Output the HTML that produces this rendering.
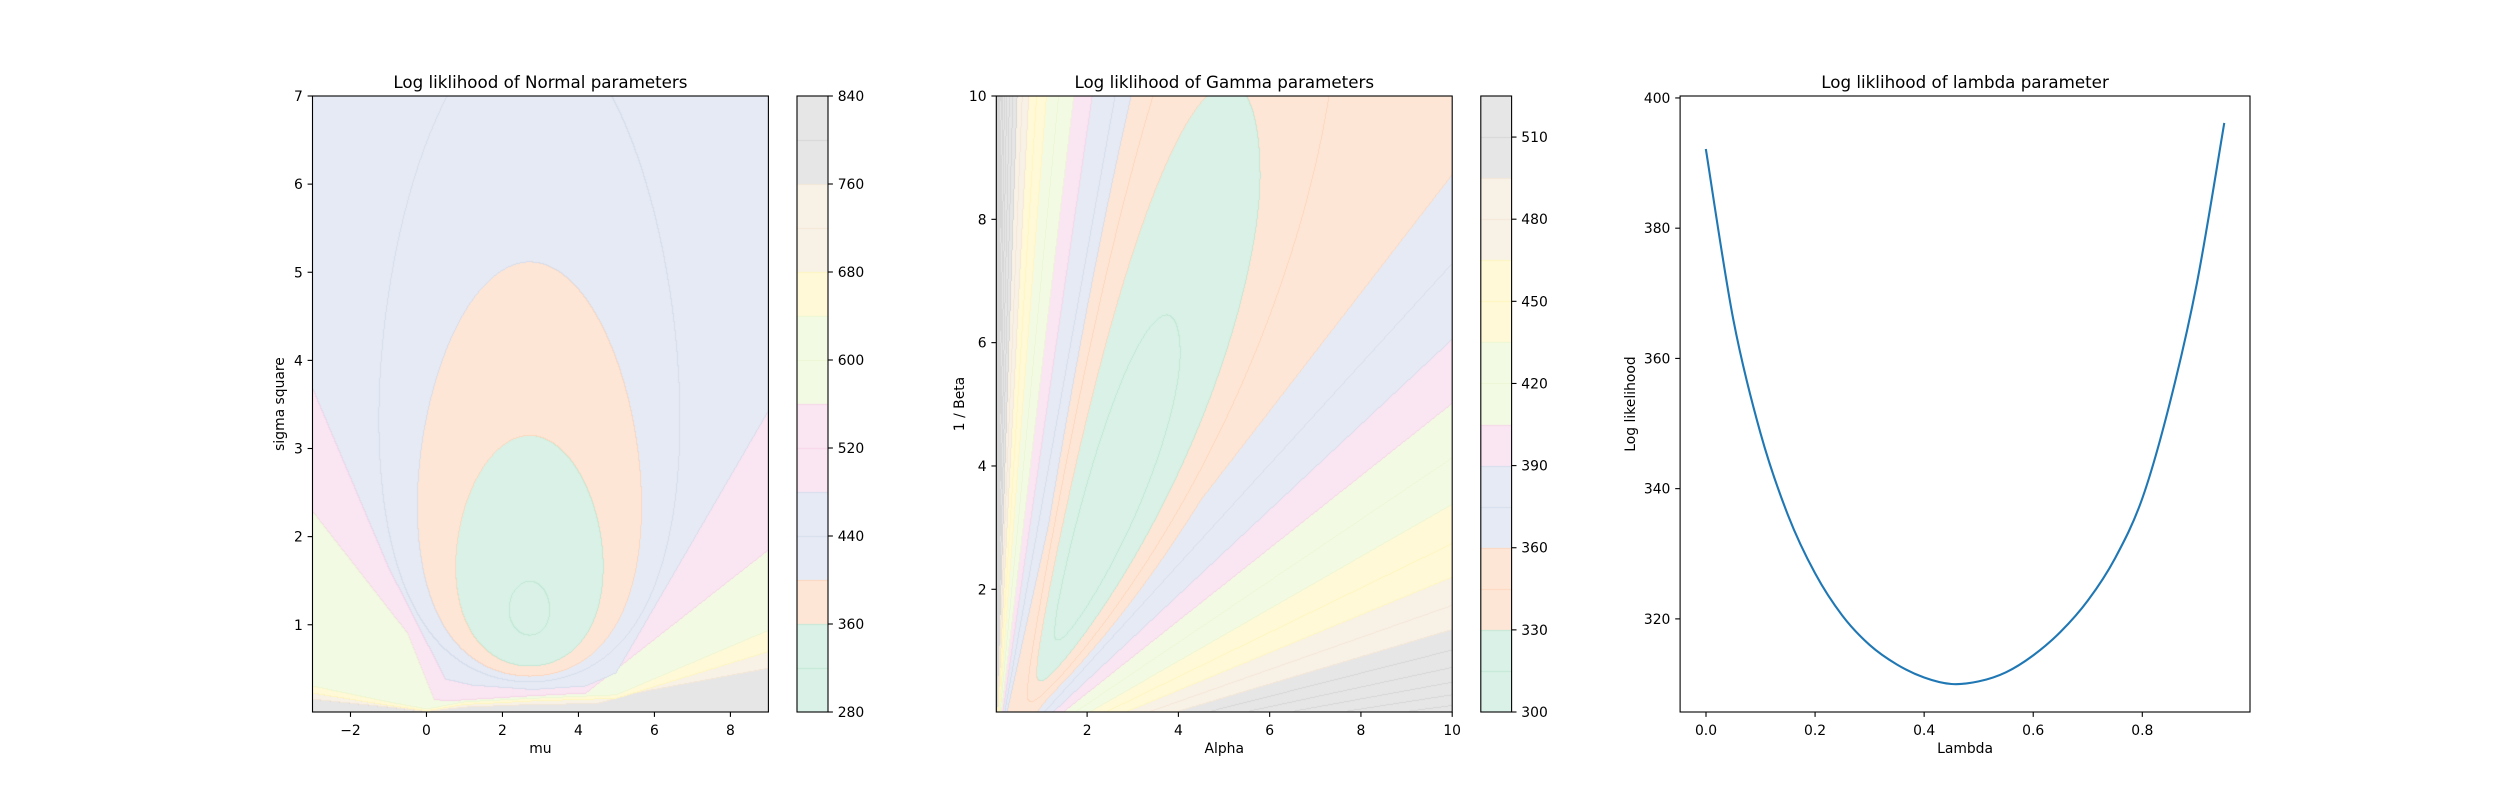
<!DOCTYPE html>
<html><head><meta charset="utf-8"><style>
html,body{margin:0;padding:0;background:#fff;}
#root{position:relative;width:2500px;height:800px;overflow:hidden;font-family:"DejaVu Sans","Liberation Sans",sans-serif;}
canvas{position:absolute;}
svg{position:absolute;left:0;top:0;}
</style></head><body>
<div id="root">
<canvas id="c1"></canvas>
<canvas id="cb1"></canvas>
<canvas id="c2"></canvas>
<canvas id="cb2"></canvas>
<svg id="s" width="2500" height="800"></svg>
</div>
<script>
// ---------------- data ----------------
const normLevels = [280, 360, 400, 480, 560, 640, 680, 760, 840];
const normTicks = [280, 360, 440, 520, 600, 680, 760, 840];
const normParams = [316, 115, 16]; // min value, sigma coefficient, mu coefficient
const normCenter = [2.72, 1.13];   // mu, sigma^2 at optimum
const normEdge480 = [[-3,3.68],[-1,1.65],[0.5,0.38],[1.2,0.31],[2.8,0.26],[4.2,0.30],[5,0.45],[9,3.41]];
const normEdge560 = [[-3,2.28],[-0.5,0.9],[0.2,0.15],[0.5,0.13],[2.8,0.19],[4.2,0.22],[9,1.84]];
const normEdge640 = [[-3,0.30],[-1,0.12],[0,0.04],[1,0.12],[2.8,0.16],[5,0.2],[9,0.93]];
const normEdge680 = [[-3,0.22],[-1,0.08],[0,0.02],[1,0.09],[2.8,0.13],[5,0.16],[9,0.69]];
const normEdge760 = [[-3,0.15],[-1,0.06],[0,0.01],[1,0.06],[2.8,0.09],[4.5,0.1],[5.5,0.22],[9,0.5]];
const normXTicks = [-2, 0, 2, 4, 6, 8];
const normYTicks = [1, 2, 3, 4, 5, 6, 7];

const gamLevels = [300, 330, 360, 390, 405, 435, 465, 495, 525];
const gamTicks = [300, 330, 360, 390, 420, 450, 480, 510];
const gamRidge = [1.65, 0.87, 1.3];
const gamShape = [306, 28, 2.3, 140];
const gamRay = [310, 92, 345];

const gamXTicks = [2, 4, 6, 8, 10];
const gamYTicks = [2, 4, 6, 8, 10];

const lambdaVals = [0,0.05,0.10,0.15,0.20,0.25,0.30,0.35,0.40,0.45,0.50,0.55,0.60,0.65,0.70,0.75,0.80,0.85,0.90,0.95];
const llVals = [392,366,348.5,336,327,320.5,316,313,311,310,310.4,311.8,314.4,318,322.8,329.3,338.5,353,371.5,396];
const lamXTicks = [0.0, 0.2, 0.4, 0.6, 0.8];
const lamYTicks = [320, 340, 360, 380, 400];

// ---------------- layout ----------------
const base = [[179,226,205],[253,205,172],[203,213,232],[244,202,228],[230,245,201],[255,242,174],[241,226,204],[204,204,204]];
const fill = base.map(c => c.map(v => Math.round(v*0.5 + 127.5)));
const line = base.map(c => c.map(v => Math.round(v*0.8 + 255*0.2)));
const P1 = {x0:312.5, x1:768.4, y0:96, y1:712, xd:[-3,9], yd:[0.01,7]};
const CB1 = {x0:797, x1:828, y0:96, y1:712};
const P2 = {x0:996.3, x1:1452.2, y0:96, y1:712, xd:[0.01,10], yd:[0.01,10]};
const CB2 = {x0:1480.8, x1:1511.6, y0:96, y1:712};
const P3 = {x0:1680.1, x1:2250, y0:96, y1:712};

function interp(poly, x){
  if (x <= poly[0][0]) return poly[0][1];
  for (let i=1;i<poly.length;i++){
    if (x <= poly[i][0]){const a=poly[i-1],b=poly[i];return a[1]+(b[1]-a[1])*(x-a[0])/(b[0]-a[0]);}
  }
  return poly[poly.length-1][1];
}
function normField(mu, s2){
  if (s2 < interp(normEdge480, mu)){
    if (s2 < interp(normEdge760, mu)) return 800;
    if (s2 < interp(normEdge680, mu)) return 720;
    if (s2 < interp(normEdge640, mu)) return 660;
    if (s2 < interp(normEdge560, mu)) return 600;
    return 520;
  }
  const r = s2/normCenter[1];
  const d = mu - normCenter[0];
  const E = normParams[0] + normParams[1]*(Math.log(r)+1/r-1) + normParams[2]*d*d/s2;
  return Math.min(E, 470);
}
function gamField(a, y){
  const t = (y + gamRidge[1]) / a;
  let u = Math.log(t / gamRidge[0]);
  u = u > 0 ? u / gamRidge[2] : -u;
  const la = Math.log(a / gamShape[2]);
  const E = gamShape[0] + gamShape[1]*la*la + gamShape[3]*u*u;
  const R = Math.max(gamRay[0] + gamRay[1]*u, gamRay[2]);
  return Math.min(E, R);
}
function bandOf(levels, f){
  for (let k=0;k<levels.length-2;k++) if (f < levels[k+1]) return k;
  return levels.length-2;
}
function renderField(id, P, fn, levels, step){
  const cv = document.getElementById(id);
  const L = Math.round(P.x0), T = Math.round(P.y0);
  const w = Math.round(P.x1) - L, h = Math.round(P.y1) - T;
  cv.width = w; cv.height = h; cv.style.left = L+'px'; cv.style.top = T+'px';
  const ctx = cv.getContext('2d'); const img = ctx.createImageData(w,h);
  const band = new Int16Array(w*h), fine = new Int16Array(w*h);
  for (let j=0;j<h;j++){
    const y = P.yd[1] - (j+0.5)/h*(P.yd[1]-P.yd[0]);
    for (let i=0;i<w;i++){
      const x = P.xd[0] + (i+0.5)/w*(P.xd[1]-P.xd[0]);
      const f = fn(x,y);
      band[j*w+i] = bandOf(levels, f);
      fine[j*w+i] = Math.floor((f - levels[0])/step);
    }
  }
  for (let j=0;j<h;j++) for (let i=0;i<w;i++){
    const k = j*w+i, b = band[k];
    const edge = (i<w-1 && fine[k]!==fine[k+1]) || (j<h-1 && fine[k]!==fine[k+w]);
    const c = edge ? line[b] : fill[b];
    img.data[k*4]=c[0]; img.data[k*4+1]=c[1]; img.data[k*4+2]=c[2]; img.data[k*4+3]=255;
  }
  ctx.putImageData(img,0,0);
}
function renderBar(id, CB, levels, step){
  const cv = document.getElementById(id);
  const L = Math.round(CB.x0), T = Math.round(CB.y0);
  const w = Math.round(CB.x1)-L, h = Math.round(CB.y1)-T;
  cv.width=w; cv.height=h; cv.style.left=L+'px'; cv.style.top=T+'px';
  const ctx = cv.getContext('2d');
  const lo = levels[0], hi = levels[levels.length-1];
  for (let j=0;j<h;j++){
    const v = hi - (j+0.5)/h*(hi-lo);
    const b = bandOf(levels, v);
    const c = fill[b];
    ctx.fillStyle = 'rgb('+c+')'; ctx.fillRect(0,j,w,1);
  }
  for (let v=lo+step; v<hi; v+=step){
    const b = bandOf(levels, v - 0.01);
    const c = line[b];
    ctx.fillStyle='rgb('+c+')';
    ctx.fillRect(0, Math.round((hi-v)/(hi-lo)*h), w, 1);
  }
}
renderField('c1', P1, normField, normLevels, 40);
renderField('c2', P2, gamField, gamLevels, 15);
renderBar('cb1', CB1, normLevels, 40);
renderBar('cb2', CB2, gamLevels, 15);

// ---------------- SVG overlay ----------------
const svg = document.getElementById('s');
const NS = 'http://www.w3.org/2000/svg';
function mk(tag, attrs, parent){
  const e = document.createElementNS(NS, tag);
  for (const k in attrs) e.setAttribute(k, attrs[k]);
  (parent||svg).appendChild(e); return e;
}
function txt(str, x, y, size, anchor, name, extra){
  const t = mk('text', Object.assign({x:x, y:y, 'font-size':size, 'text-anchor':anchor, fill:'#000',
    'font-family':'DejaVu Sans, Liberation Sans, sans-serif'}, extra||{}));
  t.textContent = str;
  
  
  return t;
}
function fmt(v){ return (v<0?'\u2212':'') + Math.abs(v); }
function frame(P, name){
  const r = mk('rect', {x:P.x0, y:P.y0, width:P.x1-P.x0, height:P.y1-P.y0, fill:'none', stroke:'#000', 'stroke-width':1.1});
  
  
}
function xTicks(P, xd, ticks, labels, prefix){
  ticks.forEach((v,i) => {
    const x = P.x0 + (v - xd[0])/(xd[1]-xd[0])*(P.x1-P.x0);
    const l = mk('line', {x1:x, x2:x, y1:P.y1, y2:P.y1+4.9, stroke:'#000', 'stroke-width':1.1});
    
    
    txt(labels[i], x, P.y1+23, 13.9, 'middle', prefix+'-x-tick-label');
  });
}
function yTicks(P, yd, ticks, labels, prefix, right){
  ticks.forEach((v,i) => {
    const y = P.y1 - (v - yd[0])/(yd[1]-yd[0])*(P.y1-P.y0);
    const xa = right ? P.x1 : P.x0;
    const xb = right ? P.x1+4.9 : P.x0-4.9;
    const l = mk('line', {x1:xa, x2:xb, y1:y, y2:y, stroke:'#000', 'stroke-width':1.1});
    
    
    txt(labels[i], right ? P.x1+9.7 : P.x0-9.7, y+5, 13.9, right?'start':'end', prefix+'-y-tick-label');
  });
}

frame(P1, 'normal-axes-frame');
xTicks(P1, P1.xd, normXTicks, normXTicks.map(fmt), 'normal');
yTicks(P1, P1.yd, normYTicks, normYTicks.map(String), 'normal');
txt('Log liklihood of Normal parameters', (P1.x0+P1.x1)/2, 88, 16.7, 'middle', 'normal-title');
txt('mu', (P1.x0+P1.x1)/2, 753, 13.9, 'middle', 'normal-x-axis-title');
txt('sigma square', 0, 0, 13.9, 'middle', 'normal-y-axis-title', {transform:'translate(284,404) rotate(-90)'});
frame(CB1, 'normal-colorbar-frame');
yTicks(CB1, [normLevels[0], normLevels[normLevels.length-1]], normTicks, normTicks.map(String), 'normal-colorbar', true);

frame(P2, 'gamma-axes-frame');
xTicks(P2, P2.xd, gamXTicks, gamXTicks.map(String), 'gamma');
yTicks(P2, P2.yd, gamYTicks, gamYTicks.map(String), 'gamma');
txt('Log liklihood of Gamma parameters', (P2.x0+P2.x1)/2, 88, 16.7, 'middle', 'gamma-title');
txt('Alpha', (P2.x0+P2.x1)/2, 753, 13.9, 'middle', 'gamma-x-axis-title');
txt('1 / Beta', 0, 0, 13.9, 'middle', 'gamma-y-axis-title', {transform:'translate(964,404) rotate(-90)'});
frame(CB2, 'gamma-colorbar-frame');
yTicks(CB2, [gamLevels[0], gamLevels[gamLevels.length-1]], gamTicks, gamTicks.map(String), 'gamma-colorbar', true);

const lxMin = Math.min(...lambdaVals), lxMax = Math.max(...lambdaVals);
const lyMin = Math.min(...llVals), lyMax = Math.max(...llVals);
const lxd = [lxMin - 0.05*(lxMax-lxMin), lxMax + 0.05*(lxMax-lxMin)];
const lyd = [lyMin - 0.05*(lyMax-lyMin), lyMax + 0.05*(lyMax-lyMin)];
const sx = v => P3.x0 + (v-lxd[0])/(lxd[1]-lxd[0])*(P3.x1-P3.x0);
const sy = v => P3.y1 - (v-lyd[0])/(lyd[1]-lyd[0])*(P3.y1-P3.y0);
const pts = lambdaVals.map((v,i)=>[sx(v), sy(llVals[i])]);
let d = 'M'+pts[0][0].toFixed(2)+','+pts[0][1].toFixed(2);
for (let i=0;i<pts.length-1;i++){
  const p0 = pts[Math.max(0,i-1)], p1 = pts[i], p2 = pts[i+1], p3 = pts[Math.min(pts.length-1,i+2)];
  const c1 = [p1[0]+(p2[0]-p0[0])/6, p1[1]+(p2[1]-p0[1])/6];
  const c2 = [p2[0]-(p3[0]-p1[0])/6, p2[1]-(p3[1]-p1[1])/6];
  d += ' C'+c1[0].toFixed(2)+','+c1[1].toFixed(2)+' '+c2[0].toFixed(2)+','+c2[1].toFixed(2)+' '+p2[0].toFixed(2)+','+p2[1].toFixed(2);
}
const curve = mk('path', {d:d, fill:'none', stroke:'#1f77b4', 'stroke-width':2.1, 'stroke-linejoin':'round', 'stroke-linecap':'square'});


frame(P3, 'lambda-axes-frame');
xTicks(P3, lxd, lamXTicks, lamXTicks.map(v=>v.toFixed(1)), 'lambda');
yTicks(P3, lyd, lamYTicks, lamYTicks.map(String), 'lambda');
txt('Log liklihood of lambda parameter', (P3.x0+P3.x1)/2, 88, 16.7, 'middle', 'lambda-title');
txt('Lambda', (P3.x0+P3.x1)/2, 753, 13.9, 'middle', 'lambda-x-axis-title');
txt('Log likelihood', 0, 0, 13.9, 'middle', 'lambda-y-axis-title', {transform:'translate(1635,404) rotate(-90)'});
</script>
</body></html>
